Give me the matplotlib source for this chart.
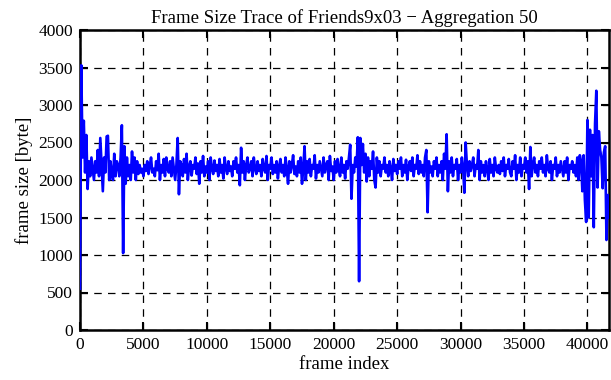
#!/usr/bin/env python3
"""
Frame size trace (aggregation 50) of Friends 9x03
"""
import numpy as np
import matplotlib
matplotlib.use('Agg')
import matplotlib.pyplot as plt

plt.rcParams['font.family'] = ['Liberation Serif', 'DejaVu Serif']
plt.rcParams['axes.unicode_minus'] = True

# frame index step between samples
frame_step = 100

# frame size [byte], one row per 1000 frames
frame_size = [
    550, 3530, 2300, 2790, 2100, 2600, 1880, 2250, 2050, 2300,
    2150, 2000, 2250, 2100, 2400, 2050, 2560, 2200, 1850, 2300,
    2100, 2580, 2590, 2000, 2250, 2100, 2000, 2350, 2050, 2250,
    2200, 2050, 2300, 2730, 1025, 2450, 1950, 2300, 2050, 2200,
    2000, 2380, 2100, 2300, 2000, 2250, 2080, 2200, 2100, 2150,
    2050, 2200, 2120, 2250, 2080, 2180, 2300, 2100, 2150, 2050,
    2250, 2130, 2350, 2000, 2200, 2100, 2280, 2050, 2300, 2150,
    2100, 2250, 2050, 2300, 2150, 2000, 2200, 2560, 1810, 2250,
    2200, 2050, 2280, 2100, 2350, 2000, 2180, 2250, 2060, 2200,
    2150, 2300, 2080, 2220, 1950, 2250, 2100, 2320, 2050, 2180,
    2100, 2250, 2000, 2300, 2150, 2080, 2260, 2120, 2200, 2050,
    2280, 2100, 2200, 2020, 2300, 2150, 2080, 2250, 2120, 2180,
    2050, 2250, 2150, 2300, 2100, 2200, 1930, 2430, 2100, 2250,
    2000, 2200, 2300, 2100, 2150, 2250, 2050, 2300, 2150, 2080,
    2250, 2120, 2200, 2050, 2280, 2150, 2100, 2320, 2000, 2200,
    2150, 2300, 2080, 2200, 2100, 2250, 2020, 2180, 2280, 2100,
    2200, 2050, 2300, 2150, 1950, 2250, 2100, 2200, 2330, 2080,
    2180, 2050, 2250, 2100, 2300, 1950, 2150, 2450, 2000, 2250,
    2100, 2280, 2050, 2200, 2150, 2330, 2020, 2200, 2100, 2250,
    2150, 2050, 2300, 2100, 2200, 2250, 2000, 2320, 2120, 2180,
    2000, 2250, 2100, 2280, 2150, 2050, 2300, 2100, 2200, 2020,
    2250, 2150, 2300, 2470, 1750, 2200, 2100, 2300, 2180, 2570,
    650, 2560, 2200, 2480, 2100, 2350, 1980, 2300, 2050, 2250,
    2150, 2380, 2000, 1900, 2300, 2100, 2250, 2050, 2200, 2150,
    2300, 2100, 2200, 2050, 2250, 2150, 2000, 2280, 2120, 2200,
    2080, 2250, 2150, 2300, 2050, 2200, 2100, 2270, 2000, 2180,
    2250, 2120, 2300, 2050, 2200, 2150, 2330, 2080, 2250, 2100,
    2200, 2050, 2300, 2400, 1570, 2250, 2100, 2180, 2050, 2250,
    2150, 2300, 2050, 2200, 2100, 2250, 2000, 2350, 2150, 2610,
    1850, 2250, 2100, 2300, 2050, 2200, 2150, 2280, 2000, 2200,
    2100, 2300, 2150, 1830, 2500, 2200, 2050, 2250, 2120, 2200,
    2300, 2050, 2200, 2150, 2400, 2000, 2250, 2100, 2200, 2050,
    2250, 2150, 2000, 2280, 2100, 2200, 2050, 2300, 2150, 2100,
    2200, 2080, 2250, 2120, 2300, 2050, 2200, 2150, 2280, 2100,
    2050, 2250, 2150, 2330, 2000, 2200, 2100, 2300, 2050, 2200,
    2150, 2300, 2100, 2250, 1880, 2440, 2050, 2200, 2300, 2100,
    2200, 2050, 2250, 2150, 2300, 2100, 2200, 2050, 2330, 2150,
    2100, 2250, 2000, 2200, 2150, 2300, 2050, 2200, 2100, 2250,
    2150, 2050, 2250, 2100, 2300, 2000, 2200, 2150, 2250, 2100,
    2200, 2050, 2300, 2000, 2330, 2250, 1850, 2330, 1730, 1440,
    2800, 1500, 2670, 2050, 2600, 1370, 2750, 3190, 1900, 2650,
    2400, 2300, 1890, 2370, 2450, 1200, 1800, 1500,
]

frame_index = np.arange(len(frame_size)) * frame_step

x_ticks = [0, 5000, 10000, 15000, 20000, 25000, 30000, 35000, 40000]
y_ticks = [0, 500, 1000, 1500, 2000, 2500, 3000, 3500, 4000]

fig = plt.figure(figsize=(6.11, 3.80), dpi=100)
ax = fig.add_axes([80 / 611, 50 / 380, 529 / 611, 300 / 380])

ax.plot(frame_index, frame_size, color='#0000ff', linewidth=1.9, zorder=3)

ax.set_xlim(0, 41700)
ax.set_ylim(0, 4000)
ax.set_xticks(x_ticks)
ax.set_yticks(y_ticks)

# gnuplot-like frame, ticks and grid
ax.grid(True, color='black', linestyle=(0, (6, 5)), linewidth=0.9)
ax.tick_params(direction='in', length=6, width=1.5, top=True, right=True,
               labelsize=12.5, pad=5, colors='black')
for s in ax.spines.values():
    s.set_linewidth(1.8)

ax.set_xlabel('frame index', fontsize=13.5, labelpad=2)
ax.set_ylabel('frame size [byte]', fontsize=13.5, labelpad=4)
ax.set_title('Frame Size Trace of Friends9x03 \u2212 Aggregation 50', fontsize=13.5, pad=5)

plt.savefig('out.png', dpi=100)
